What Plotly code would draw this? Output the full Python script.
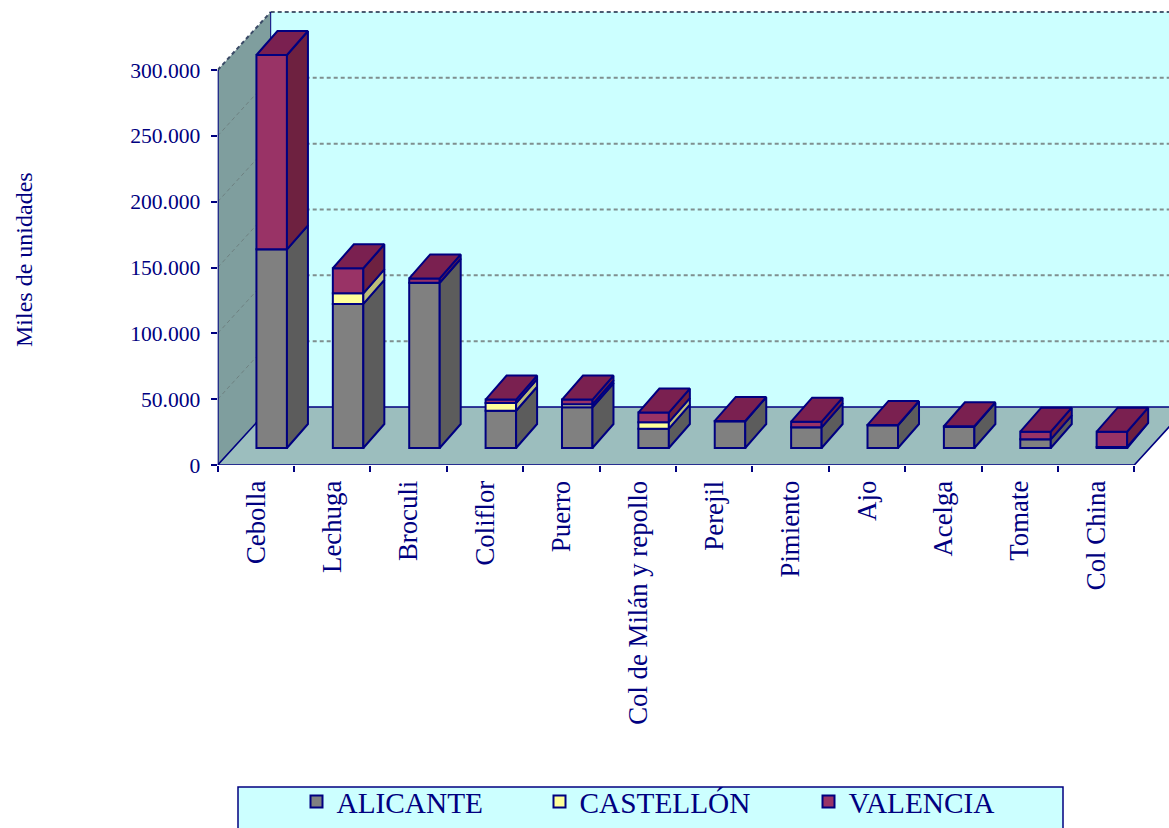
import plotly.graph_objects as go

categories = ["Cebolla", "Lechuga", "Broculi", "Coliflor", "Puerro", "Col de Milán y repollo",
              "Perejil", "Pimiento", "Ajo", "Acelga", "Tomate", "Col China"]
alicante = [150900, 109400, 125500, 28300, 30900, 14700, 20300, 15700, 17200, 16200, 6600, 800]
castellon = [0, 8100, 0, 5800, 2300, 4900, 0, 0, 0, 0, 0, 0]
valencia = [147600, 19000, 3300, 2700, 3600, 7300, 300, 4300, 300, 300, 5800, 11600]
y_ticks = [0, 50000, 100000, 150000, 200000, 250000, 300000]
y_labels = ["0", "50.000", "100.000", "150.000", "200.000", "250.000", "300.000"]

W, H = 1169, 828
X0_PX, X1_PX = 217.7, 1134.3
Y0_PX, Y300_PX = 465.0, 70.0
XS = (X1_PX - X0_PX) / len(categories)      # px per category
YS = (Y0_PX - Y300_PX) / 300000             # px per unit

NAVY = "#000080"
WALL_DX, WALL_DY = 53 / XS, 58 / YS         # depth of the box
LIFT_X, LIFT_Y = 15.8 / XS, 17 / YS         # bar front offset from the front edge
BAR_W = 30.5 / XS
BAR_DX, BAR_DY = 21 / XS, 24 / YS           # bar depth

xmin = -0.5
xmax = xmin + (W - X0_PX) / XS
ymax = Y0_PX / YS
xr = len(categories) - 0.5
top_val = 300000

series = [("ALICANTE", alicante, "#808080", "#5C5C5C"),
          ("CASTELLÓN", castellon, "#FFFF99", "#BDBD78"),
          ("VALENCIA", valencia, "#993366", "#6E2140")]
TOP_COLOR = "#7A2050"

fig = go.Figure()
legends = ["legend", "legend2", "legend3"]
cum = [LIFT_Y] * len(categories)
sides = []
for (name, vals, col, side), lg in zip(series, legends):
    fig.add_bar(x=list(range(len(categories))), y=vals, base=list(cum), name=name, legend=lg,
                width=BAR_W, offset=LIFT_X - BAR_W / 2,
                marker=dict(color=col, line=dict(color=NAVY, width=2)), hoverinfo="skip")
    sx, sy = [], []
    for i, v in enumerate(vals):
        if v <= 0:
            continue
        xa = i + LIFT_X + BAR_W / 2
        sx += [xa, xa + BAR_DX, xa + BAR_DX, xa, xa, None]
        sy += [cum[i], cum[i] + BAR_DY, cum[i] + v + BAR_DY, cum[i] + v, cum[i], None]
    sides.append((sx, sy, side))
    cum = [c + v for c, v in zip(cum, vals)]

for sx, sy, side in sides:
    fig.add_scatter(x=sx, y=sy, mode="lines", fill="toself", fillcolor=side,
                    line=dict(color=NAVY, width=2), showlegend=False, hoverinfo="skip")

tx, ty = [], []
for i, c in enumerate(cum):
    xl = i + LIFT_X - BAR_W / 2
    xh = i + LIFT_X + BAR_W / 2
    tx += [xl, xl + BAR_DX, xh + BAR_DX, xh, xl, None]
    ty += [c, c + BAR_DY, c + BAR_DY, c, c, None]
fig.add_scatter(x=tx, y=ty, mode="lines", fill="toself", fillcolor=TOP_COLOR,
                line=dict(color=NAVY, width=2), showlegend=False, hoverinfo="skip")


def poly(pts):
    return "M " + " L ".join(f"{x},{y}" for x, y in pts) + " Z"


shapes = [
    # back wall
    dict(type="path", xref="x", yref="y", layer="below", fillcolor="#CCFFFF", line=dict(width=0),
         path=poly([(xmin + WALL_DX, WALL_DY), (xr + WALL_DX, WALL_DY),
                    (xr + WALL_DX, WALL_DY + top_val), (xmin + WALL_DX, WALL_DY + top_val)])),
    # side wall
    dict(type="path", xref="x", yref="y", layer="below", fillcolor="#7F9E9E", line=dict(width=0),
         path=poly([(xmin, 0), (xmin + WALL_DX, WALL_DY), (xmin + WALL_DX, WALL_DY + top_val), (xmin, top_val)])),
    # floor
    dict(type="path", xref="x", yref="y", layer="below", fillcolor="#9CBEBE",
         line=dict(color=NAVY, width=1.6),
         path=poly([(xmin, 0), (xr, 0), (xr + WALL_DX, WALL_DY), (xmin + WALL_DX, WALL_DY)])),
]
for v in y_ticks[1:]:
    shapes.append(dict(type="line", xref="x", yref="y", layer="below",
                       x0=xmin + WALL_DX, x1=xr + WALL_DX, y0=v + WALL_DY, y1=v + WALL_DY,
                       line=dict(color="#7F8F8F" if v < top_val else "#4A5A70", width=2, dash="4px,3px")))
    shapes.append(dict(type="line", xref="x", yref="y", layer="below",
                       x0=xmin, x1=xmin + WALL_DX, y0=v, y1=v + WALL_DY,
                       line=dict(color="#6E8080" if v < top_val else "#3A4A66",
                                 width=1 if v < top_val else 2, dash="4px,3px")))
shapes += [
    dict(type="line", xref="x", yref="y", layer="below", x0=xmin, x1=xmin, y0=0, y1=top_val,
         line=dict(color=NAVY, width=2)),
    dict(type="line", xref="x", yref="y", layer="below", x0=xmin + WALL_DX, x1=xmin + WALL_DX,
         y0=WALL_DY, y1=WALL_DY + top_val, line=dict(color=NAVY, width=1)),
    # legend box
    dict(type="rect", xref="paper", yref="paper", layer="below", fillcolor="#CCFFFF",
         x0=238 / W, x1=1063 / W, y0=1 - 840 / H, y1=1 - 787 / H, line=dict(color=NAVY, width=1.5)),
]

font = "Liberation Serif, Times New Roman, serif"
leg_common = dict(bgcolor="rgba(0,0,0,0)", borderwidth=0, orientation="h", yanchor="bottom", y=0,
                  font=dict(family=font, size=29.3, color=NAVY), itemclick=False,
                  itemdoubleclick=False)
fig.update_layout(
    width=W, height=H, margin=dict(l=0, r=0, t=0, b=0), autosize=False,
    paper_bgcolor="white", plot_bgcolor="rgba(0,0,0,0)",
    barmode="overlay", shapes=shapes,
    font=dict(family=font, color=NAVY),
    legend=dict(x=296.5 / W, **leg_common),
    legend2=dict(x=539.5 / W, **leg_common),
    legend3=dict(x=808.5 / W, **leg_common),
    xaxis=dict(domain=[X0_PX / W, 1], range=[xmin, xmax], showgrid=False, zeroline=False, showline=False,
               automargin=False,
               tickmode="array", tickvals=list(range(len(categories))), ticktext=categories,
               tickangle=-90, ticks="outside", ticklen=6, tickcolor="rgba(0,0,0,0)",
               ticklabelstandoff=-2,
               tickfont=dict(family=font, size=26.8, color=NAVY),
               minor=dict(tickmode="array", tickvals=[i - 0.5 for i in range(len(categories) + 1)],
                          ticks="outside", ticklen=6, tickcolor=NAVY, tickwidth=1.5, showgrid=False)),
    yaxis=dict(domain=[1 - Y0_PX / H, 1], range=[0, ymax], showgrid=False, zeroline=False, showline=False,
               automargin=False,
               tickmode="array", tickvals=y_ticks, ticktext=y_labels,
               ticks="outside", ticklen=6, tickcolor=NAVY, tickwidth=1.5, ticklabelstandoff=6,
               tickfont=dict(family=font, size=21.6, color=NAVY)),
    annotations=[dict(text="Miles de unidades", xref="paper", yref="paper", x=24 / W, y=1 - 260 / H,
                      textangle=-90, showarrow=False, xanchor="center", yanchor="middle",
                      font=dict(family=font, size=24, color=NAVY))],
)
fig.write_html("out.html", post_script="document.body.style.margin='0';",
               config={"displayModeBar": False})
